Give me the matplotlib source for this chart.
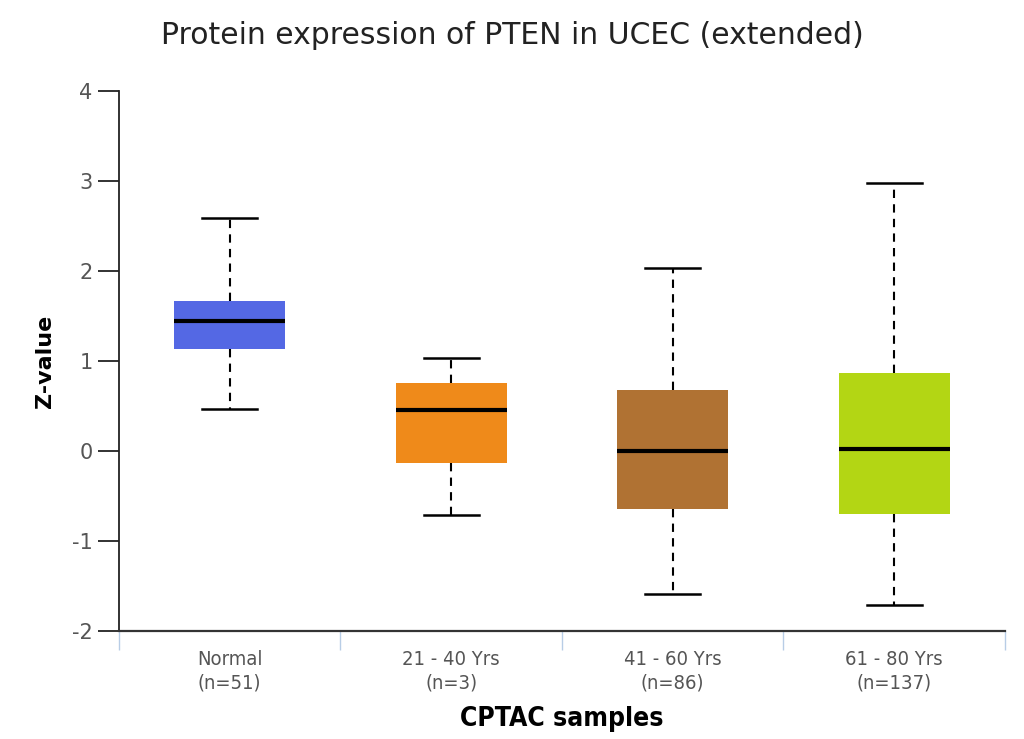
import matplotlib.pyplot as plt

# Box statistics (Z-values)
groups = ["Normal\n(n=51)", "21 - 40 Yrs\n(n=3)", "41 - 60 Yrs\n(n=86)", "61 - 80 Yrs\n(n=137)"]
whisker_low = [0.47, -0.71, -1.59, -1.71]
q1 = [1.13, -0.13, -0.64, -0.70]
median = [1.44, 0.46, 0.00, 0.02]
q3 = [1.67, 0.76, 0.68, 0.87]
whisker_high = [2.59, 1.03, 2.03, 2.98]
colors = ["#5468E4", "#EF8A1A", "#B07233", "#B3D614"]

plt.rcParams["axes.unicode_minus"] = False

stats = []
for i in range(len(groups)):
    stats.append({
        "whislo": whisker_low[i], "q1": q1[i], "med": median[i],
        "q3": q3[i], "whishi": whisker_high[i], "fliers": [],
    })

fig = plt.figure(figsize=(10.24, 7.39), dpi=100)
ax = fig.add_axes([0.1162, 0.1461, 0.8652, 0.7308])

bp = ax.bxp(stats, positions=range(len(groups)), widths=0.5, patch_artist=True,
            showfliers=False,
            boxprops=dict(linewidth=0),
            medianprops=dict(color="black", linewidth=3),
            whiskerprops=dict(color="black", linewidth=1.5, linestyle=(0, (4, 3))),
            capprops=dict(color="black", linewidth=1.8),
            capwidths=0.25)
for patch, c in zip(bp["boxes"], colors):
    patch.set_facecolor(c)
    patch.set_edgecolor(c)

ax.set_xlim(-0.5, 3.5)
ax.set_ylim(-2, 4)

for s in ["top", "right"]:
    ax.spines[s].set_visible(False)
ax.spines["left"].set_linewidth(1.3)
ax.spines["left"].set_color("#222222")
ax.spines["bottom"].set_linewidth(1.6)
ax.spines["bottom"].set_color("#333333")

ax.set_yticks(range(-2, 5))
ax.tick_params(axis="y", length=15, width=1.3, color="#222222", labelsize=15,
               labelcolor="#555555", pad=4)

# category boundaries as x ticks, labels placed at centers
ax.set_xticks([-0.5, 0.5, 1.5, 2.5, 3.5])
ax.set_xticklabels([])
ax.tick_params(axis="x", length=14, width=1, color="#b8cde6")
ax.set_xticks(range(len(groups)), minor=True)
ax.set_xticklabels(groups, minor=True, fontsize=14.5, color="#555555",
                   fontstretch="condensed", linespacing=1.25)
ax.tick_params(axis="x", which="minor", length=0, pad=14)

ax.set_ylabel("Z-value", fontsize=16, fontweight="bold", labelpad=12)
ax.set_xlabel("CPTAC samples", fontsize=19, fontweight="bold", fontstretch="condensed",
              labelpad=10)
fig.suptitle("Protein expression of PTEN in UCEC (extended)", fontsize=21.5, color="#222222",
             y=0.972)

fig.savefig("out.png", dpi=100)
